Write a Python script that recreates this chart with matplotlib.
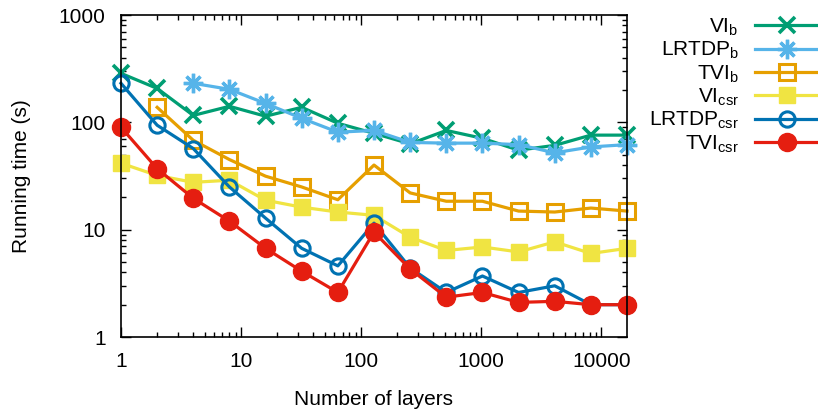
import matplotlib
matplotlib.use("Agg")
import matplotlib.pyplot as plt
from matplotlib.ticker import LogLocator, NullFormatter, FixedLocator, FixedFormatter

plt.rcParams['font.family'] = ['Liberation Sans', 'DejaVu Sans']
plt.rcParams['mathtext.fontset'] = 'custom'
plt.rcParams['mathtext.rm'] = 'Liberation Sans'
plt.rcParams['mathtext.it'] = 'Liberation Sans'

layers = [1, 2, 4, 8, 16, 32, 64, 128, 256, 512, 1024, 2048, 4096, 8192, 16384]

vi_b = [286, 207, 116, 141, 114, 138, 98, 79, 63, 84, 71, 55, 61, 76, 76]
lrtdp_b = [None, None, 231, 203, 150, 109, 81, 84, 65, 64, 64, 62, 52, 59, 62]
tvi_b = [None, 138, 68, 45, 31.5, 25, 19, 40, 22, 18.4, 18.4, 14.9, 14.6, 15.9, 14.9]
vi_csr = [41.6, 32, 27.6, 28.9, 18.8, 16.2, 14.6, 13.6, 8.5, 6.4, 6.9, 6.2, 7.7, 6.0, 6.7]
lrtdp_csr = [231, 94, 57, 25, 12.8, 6.7, 4.6, 11.5, 4.4, 2.6, 3.7, 2.6, 3.0, 2.0, 2.0]
tvi_csr = [90, 37, 19.6, 12, 6.7, 4.1, 2.6, 9.5, 4.3, 2.35, 2.6, 2.1, 2.15, 2.0, 2.0]

labels = [r'VI$_\mathrm{b}$', r'LRTDP$_\mathrm{b}$', r'TVI$_\mathrm{b}$',
          r'VI$_\mathrm{csr}$', r'LRTDP$_\mathrm{csr}$', r'TVI$_\mathrm{csr}$']
colors = ['#009e73', '#56b4e9', '#e69f00', '#f0e442', '#0072b2', '#e51e10']

FS = 15

fig = plt.figure(figsize=(8.18, 4.15), dpi=100)
ax = fig.add_axes([121/818, (415-337)/415, (627-121)/818, (337-15)/415])

series = [vi_b, lrtdp_b, tvi_b, vi_csr, lrtdp_csr, tvi_csr]
styles = [
    dict(marker='x', markersize=12, markeredgewidth=2.6),
    dict(marker=(8, 2, 0), markersize=14, markeredgewidth=2.4),
    dict(marker='s', markersize=11, markerfacecolor='none', markeredgewidth=2.2),
    dict(marker='s', markersize=12),
    dict(marker='o', markersize=11, markerfacecolor='none', markeredgewidth=2.2),
    dict(marker='o', markersize=13),
]
for vals, lab, col, st in zip(series, labels, colors, styles):
    xs = [x for x, v in zip(layers, vals) if v is not None]
    ys = [v for v in vals if v is not None]
    ax.plot(xs, ys, color=col, linewidth=2.3, label=lab, clip_on=False, **st)

ax.set_xscale('log')
ax.set_yscale('log')
ax.set_xlim(1, 16384)
ax.set_ylim(1, 1000)

ax.xaxis.set_major_locator(FixedLocator([1, 10, 100, 1000, 10000]))
ax.xaxis.set_major_formatter(FixedFormatter(['1', '10', '100', '1000', '10000']))
ax.yaxis.set_major_locator(FixedLocator([1, 10, 100, 1000]))
ax.yaxis.set_major_formatter(FixedFormatter(['1', '10', '100', '1000']))
ax.xaxis.set_minor_locator(LogLocator(base=10, subs=range(2, 10), numticks=20))
ax.yaxis.set_minor_locator(LogLocator(base=10, subs=range(2, 10), numticks=20))
ax.xaxis.set_minor_formatter(NullFormatter())
ax.yaxis.set_minor_formatter(NullFormatter())

ax.tick_params(which='both', direction='in', top=True, right=True, labelsize=FS, width=1.0, color='black')
ax.tick_params(axis='x', which='major', length=7, pad=11)
ax.tick_params(axis='y', which='major', length=7, pad=11)
ax.tick_params(which='minor', length=3.5)
for s in ax.spines.values():
    s.set_linewidth(1.2)

ax.set_xlabel('Number of layers', fontsize=FS)
ax.set_ylabel('Running time (s)', fontsize=FS)
ax.xaxis.set_label_coords(0.5, (337 - 390) / 322)
ax.yaxis.set_label_coords((31 - 121) / 506, 0.5)

leg = fig.legend(loc='upper right', bbox_to_anchor=(1.0, 0.96), frameon=False,
                 fontsize=FS, markerfirst=False, numpoints=1, handlelength=3.0,
                 labelspacing=0.1, handletextpad=0.8, borderaxespad=0, borderpad=0)
for t in leg.get_texts():
    t.set_ha('right')

fig.savefig('out.png', dpi=100)
